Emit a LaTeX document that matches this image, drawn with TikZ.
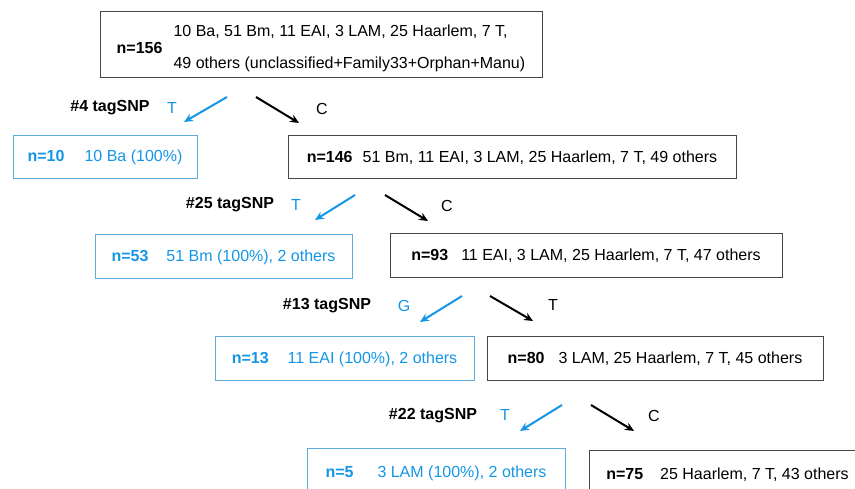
\documentclass[tikz,border=0pt]{standalone}
\usepackage{fontspec}
\setmainfont{Liberation Sans}
\usetikzlibrary{arrows.meta}
\definecolor{snpblue}{RGB}{20,150,230}
\definecolor{boxblue}{RGB}{95,172,218}
\definecolor{boxgray}{RGB}{70,70,70}
\tikzset{
  groupnode/.style={rectangle,draw=boxgray,line width=1pt,inner sep=0pt,
    text centered,font=\fontsize{16}{19}\selectfont},
  leafnode/.style={groupnode,draw=boxblue,text=snpblue},
  snplabel/.style={font=\fontsize{16}{19}\selectfont\bfseries,inner sep=0pt},
  allele/.style={font=\fontsize{16}{19}\selectfont,inner sep=0pt},
  leafallele/.style={allele,text=snpblue},
  arrow/.style={-{Stealth[length=9pt,width=8pt]},line width=2pt},
  leafarrow/.style={arrow,draw=snpblue},
}

\begin{document}
\begin{tikzpicture}[x=1pt,y=-1pt]
  \useasboundingbox (0,0) rectangle (855,489);
  \clip (0,0) rectangle (855,489);

  %% ── Root: all isolates ────────────────────────────────────────────────────
  \node[groupnode,minimum width=442pt,minimum height=66pt] (all) at (321,45)
    {\raisebox{-4pt}[\height][\depth]{\textbf{n=156}\hspace{11pt}\begin{tabular}[c]{@{}l@{}}10 Ba, 51 Bm, 11 EAI, 3 LAM, 25 Haarlem, 7 T,\\[13pt]
     49 others (unclassified+Family33+Orphan+Manu)\end{tabular}}};

  %% ── Split 1: #4 tagSNP ────────────────────────────────────────────────────
  \node[snplabel]   (snp4)  at (110,108) {\#4 tagSNP};
  \node[leafallele] (snp4t) at (172,108) {T};
  \node[allele]     (snp4c) at (322,109) {C};
  \coordinate (s4a) at (227,97);  \coordinate (s4b) at (184,122);
  \coordinate (s4c) at (256,97);  \coordinate (s4d) at (299,123);
  \draw[leafarrow] (s4a) -- (s4b);
  \draw[arrow]     (s4c) -- (s4d);
  \node[leafnode,minimum width=184pt,minimum height=43pt] (ba) at (105,157.5)
    {\textbf{n=10}\hspace{20pt}10 Ba (100\%)};
  \node[groupnode,minimum width=448pt,minimum height=43pt] (rest146) at (512,157.5)
    {\textbf{n=146}\hspace{10pt}51 Bm, 11 EAI, 3 LAM, 25 Haarlem, 7 T, 49 others};

  %% ── Split 2: #25 tagSNP ───────────────────────────────────────────────────
  \node[snplabel]   (snp25)  at (230,205) {\#25 tagSNP};
  \node[leafallele] (snp25t) at (296,205) {T};
  \node[allele]     (snp25c) at (447,206) {C};
  \coordinate (s25a) at (355,195);  \coordinate (s25b) at (315,220);
  \coordinate (s25c) at (385,195);  \coordinate (s25d) at (428,221);
  \draw[leafarrow] (s25a) -- (s25b);
  \draw[arrow]     (s25c) -- (s25d);
  \node[leafnode,minimum width=257pt,minimum height=44pt] (bm) at (223.5,257)
    {\textbf{n=53}\hspace{18pt}51 Bm (100\%), 2 others};
  \node[groupnode,minimum width=392pt,minimum height=44pt] (rest93) at (586,256)
    {\textbf{n=93}\hspace{13pt}11 EAI, 3 LAM, 25 Haarlem, 7 T, 47 others};

  %% ── Split 3: #13 tagSNP ───────────────────────────────────────────────────
  \node[snplabel]   (snp13)  at (327,306) {\#13 tagSNP};
  \node[leafallele] (snp13g) at (404,306) {G};
  \node[allele]     (snp13t) at (553,305) {T};
  \coordinate (s13a) at (462,296);  \coordinate (s13b) at (420,322);
  \coordinate (s13c) at (490,296);  \coordinate (s13d) at (533,321);
  \draw[leafarrow] (s13a) -- (s13b);
  \draw[arrow]     (s13c) -- (s13d);
  \node[leafnode,minimum width=259pt,minimum height=44pt] (eai) at (344.5,359)
    {\textbf{n=13}\hspace{19pt}11 EAI (100\%), 2 others};
  \node[groupnode,minimum width=336pt,minimum height=44pt] (rest80) at (655,359)
    {\textbf{n=80}\hspace{14pt}3 LAM, 25 Haarlem, 7 T, 45 others};

  %% ── Split 4: #22 tagSNP ───────────────────────────────────────────────────
  \node[snplabel]   (snp22)  at (433,416) {\#22 tagSNP};
  \node[leafallele] (snp22t) at (505,415) {T};
  \node[allele]     (snp22c) at (654,416) {C};
  \coordinate (s22a) at (562,405);  \coordinate (s22b) at (520,431);
  \coordinate (s22c) at (591,405);  \coordinate (s22d) at (634,431);
  \draw[leafarrow] (s22a) -- (s22b);
  \draw[arrow]     (s22c) -- (s22d);
  \node[leafnode,minimum width=258pt,minimum height=50pt] (lam) at (436,473)
    {\textbf{n=5}\hspace{24pt}3 LAM (100\%), 2 others};
  \node[groupnode,minimum width=277pt,minimum height=50pt] (rest75) at (727.5,475)
    {\textbf{n=75}\hspace{17pt}25 Haarlem, 7 T, 43 others};

\end{tikzpicture}
\end{document}
